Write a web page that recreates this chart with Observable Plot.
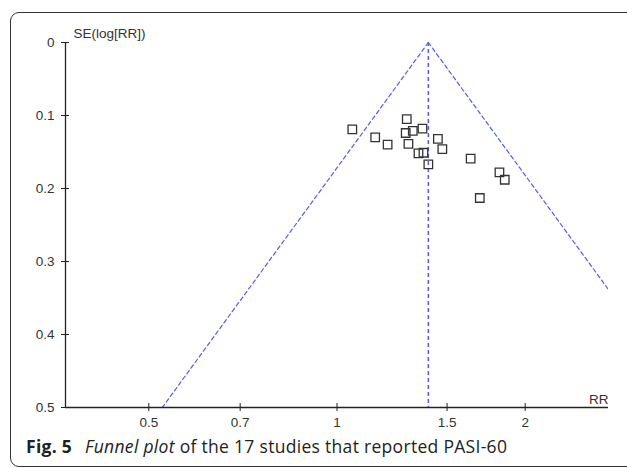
<!DOCTYPE html>
<html>
<head>
<meta charset="utf-8">
<script src="https://cdn.jsdelivr.net/npm/d3@7"></script>
<script src="https://cdn.jsdelivr.net/npm/@observablehq/plot@0.6"></script>
<style>
  html, body { margin: 0; padding: 0; width: 627px; height: 468px; overflow: hidden; background: #fff; }
  #frame { position: absolute; left: 10px; top: 12px; width: 660px; height: 455px;
           border: 1.5px solid #333; border-radius: 9px; box-sizing: border-box; }
  #chart { position: absolute; left: 0; top: 0; }
  #caption { position: absolute; left: 26px; top: 434px; font-family: "Open Sans", sans-serif;
             font-size: 17.5px; letter-spacing: 0.3px; color: #222; white-space: nowrap; }
  #caption b { font-weight: 700; margin-right: 8px; }
</style>
</head>
<body>
<div id="frame"></div>
<div id="chart"></div>
<div id="caption"><b>Fig. 5</b> <i>Funnel plot</i> of the 17 studies that reported PASI-60</div>
<script>
// Study risk ratios and their standard errors (of log RR)
const rr = [1.058, 1.151, 1.205, 1.293, 1.288, 1.322, 1.370, 1.301, 1.350, 1.375, 1.400, 1.450, 1.474, 1.636, 1.819, 1.855, 1.692];
const se = [0.119, 0.130, 0.140, 0.105, 0.124, 0.121, 0.118, 0.139, 0.152, 0.151, 0.167, 0.132, 0.146, 0.159, 0.178, 0.188, 0.213];
const pooledRR = 1.40;
const seMax = 0.5;
const xTicks = [0.5, 0.7, 1, 1.5, 2];
const yTicks = [0, 0.1, 0.2, 0.3, 0.4, 0.5];

const studies = rr.map((r, i) => ({rr: r, se: se[i]}));
const lc = Math.log(pooledRR);
const leftLine = [0, seMax].map(s => ({rr: Math.exp(lc - 1.96 * s), se: s}));
const rightLine = [0, seMax].map(s => ({rr: Math.exp(lc + 1.96 * s), se: s}));
const xDomain = [Math.exp(-1), Math.exp(1)];
const blue = "#5a5ae8";
const font = "'Liberation Sans', Arial, sans-serif";

const chart = Plot.plot({
  width: 627,
  height: 432,
  marginLeft: 65,
  marginRight: 19,
  marginTop: 42,
  marginBottom: 25,
  style: {fontFamily: font, fontSize: "13.5px", color: "#333", background: "transparent", overflow: "visible"},
  x: {type: "log", domain: xDomain, range: [65, 608]},
  y: {domain: [0, seMax], range: [42, 407]},
  marks: [
    Plot.line(leftLine, {x: "rr", y: "se", stroke: blue, strokeWidth: 1.2, strokeDasharray: "4,3", clip: true}),
    Plot.line(rightLine, {x: "rr", y: "se", stroke: blue, strokeWidth: 1.2, strokeDasharray: "4,3", clip: true}),
    Plot.ruleX([pooledRR], {y1: 0, y2: seMax, stroke: blue, strokeWidth: 1.5, strokeDasharray: "4,3"}),
    Plot.ruleX([xDomain[0]], {y1: 0, y2: seMax, stroke: "#222", strokeWidth: 1.3}),
    Plot.ruleY([seMax], {x1: xDomain[0], x2: xDomain[1], stroke: "#222", strokeWidth: 1.3}),
    Plot.axisY({ticks: yTicks, tickSize: 8, dx: 4, tickPadding: 7, tickFormat: d => String(d), label: null, stroke: "#222", fill: "#333"}),
    Plot.axisX({ticks: xTicks, tickSize: 8, dy: -4, tickPadding: 6, tickFormat: d => String(d), label: null, stroke: "#222", fill: "#333"}),
    Plot.text(["SE(log[RR])"], {frameAnchor: "top-left", dx: 8, dy: -14, fill: "#333", textAnchor: "start"}),
    Plot.text(["RR"], {frameAnchor: "bottom-right", dy: -4, fill: "#333", textAnchor: "end"}),
    Plot.dot(studies, {x: "rr", y: "se", symbol: "square", r: 4.8, stroke: "#333", strokeWidth: 1.3, fill: "none"})
  ]
});
document.getElementById("chart").appendChild(chart);
</script>
</body>
</html>
